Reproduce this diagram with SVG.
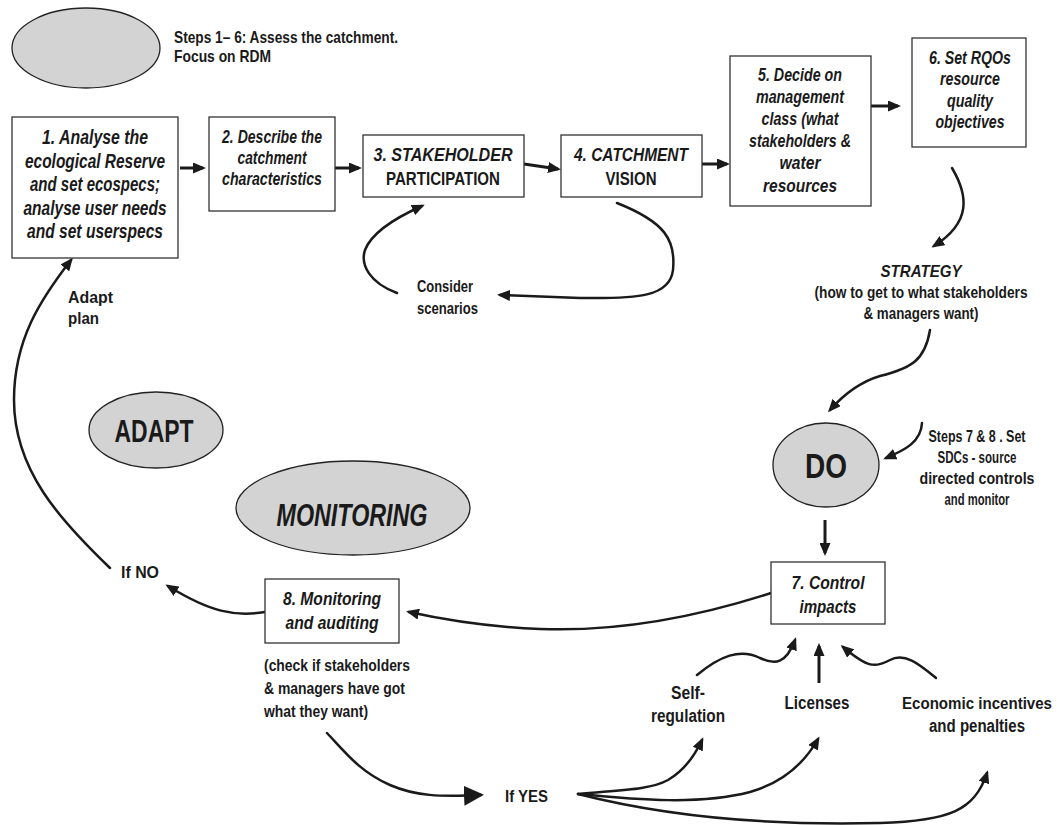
<svg xmlns="http://www.w3.org/2000/svg" width="1059" height="825" viewBox="0 0 1059 825">
<style>
.bg{fill:#ffffff}
.box{fill:#ffffff;stroke:#333333;stroke-width:1.3}
.ell{fill:#d3d3d3;stroke:#222222;stroke-width:1.3}
.t{font-family:"Liberation Sans Narrow","Liberation Sans",Arial,sans-serif;font-weight:bold;fill:#1a1a1a;text-anchor:middle}
.l{text-anchor:start}
.i{font-style:italic}
.c{fill:none;stroke:#1a1a1a;stroke-width:2.5;stroke-linecap:round}
.s{stroke-width:3;stroke-linecap:butt}
</style>
<defs>
<marker id="ah" markerUnits="userSpaceOnUse" markerWidth="13" markerHeight="11" refX="10" refY="5.5" orient="auto" viewBox="0 0 13 11">
<path d="M0,0 L13,5.5 L0,11 Z" fill="#1a1a1a"/>
</marker>
<marker id="big" markerUnits="userSpaceOnUse" markerWidth="20" markerHeight="20" refX="17" refY="10" orient="auto" viewBox="0 0 20 20">
<path d="M0,0 L20,10 L0,20 Z" fill="#1a1a1a"/>
</marker>
</defs>
<rect class="bg" x="0" y="0" width="1059" height="825"/>

<g id="legend">
<ellipse class="ell" cx="86" cy="48" rx="74" ry="40"/>
<text class="t l" x="174" y="43" font-size="17" textLength="224" lengthAdjust="spacingAndGlyphs">Steps 1– 6: Assess the catchment.</text>
<text class="t l" x="174" y="62" font-size="17" textLength="97" lengthAdjust="spacingAndGlyphs">Focus on RDM</text>
</g>

<g id="connectors">
<path class="c s" d="M180 168 L203 168" marker-end="url(#ah)"/>
<path class="c s" d="M335 168 L359 168" marker-end="url(#ah)"/>
<path class="c s" d="M524 164 L558 169" marker-end="url(#ah)"/>
<path class="c s" d="M702 164 L727 164" marker-end="url(#ah)"/>
<path class="c s" d="M871 106 L898 106" marker-end="url(#ah)"/>
<path class="c" d="M617 203 C665 222 676 240 673 270 C670 296 640 299 580 298 C550 297 520 296 500 295" marker-end="url(#ah)"/>
<path class="c" d="M397 293 C370 283 360 265 365 250 C372 232 395 218 422 206" marker-end="url(#ah)"/>
<path class="c" d="M952 168 C968 195 972 222 934 246" marker-end="url(#ah)"/>
<path class="c" d="M930 330 C925 360 912 368 880 376 C860 382 845 393 830 410" marker-end="url(#ah)"/>
<path class="c" d="M922 423 C921 442 905 450 886 458" marker-end="url(#ah)"/>
<path class="c s" d="M825 520 L825 553" marker-end="url(#ah)"/>
<path class="c" d="M771 593 C700 616 620 632 540 629 C490 627 450 621 409 612" marker-end="url(#ah)"/>
<path class="c" d="M265 612 C235 617 210 612 168 586" marker-end="url(#ah)"/>
<path class="c" d="M110 568 C60 520 14 470 14 400 C14 340 40 300 71 260" marker-end="url(#ah)"/>
<path class="c" d="M327 733 C345 752 360 772 390 785 C415 796 440 797 481 795" marker-end="url(#big)"/>
<path class="c" d="M578 794 C620 790 650 790 668 780 C685 770 695 755 702 740" marker-end="url(#ah)"/>
<path class="c" d="M578 794 C640 800 700 805 750 792 C785 782 805 762 818 739" marker-end="url(#ah)"/>
<path class="c" d="M578 794 C660 815 760 826 880 823 C950 821 975 810 987 773" marker-end="url(#ah)"/>
<path class="c" d="M697 675 C720 656 740 648 760 658 C775 665 786 664 795 640" marker-end="url(#ah)"/>
<path class="c s" d="M819 683 L819 646" marker-end="url(#ah)"/>
<path class="c" d="M936 678 C920 665 905 652 890 660 C875 668 868 668 843 647" marker-end="url(#ah)"/>
</g>

<g id="n1">
<rect class="box" x="12" y="117" width="166" height="141"/>
<text class="t i" x="95" y="144" font-size="19.5" textLength="106" lengthAdjust="spacingAndGlyphs">1. Analyse the</text>
<text class="t i" x="95" y="168" font-size="19.5" textLength="140" lengthAdjust="spacingAndGlyphs">ecological Reserve</text>
<text class="t i" x="95" y="191" font-size="19.5" textLength="130" lengthAdjust="spacingAndGlyphs">and set ecospecs;</text>
<text class="t i" x="95" y="215" font-size="19.5" textLength="143" lengthAdjust="spacingAndGlyphs">analyse user needs</text>
<text class="t i" x="95" y="238" font-size="19.5" textLength="136" lengthAdjust="spacingAndGlyphs">and set userspecs</text>
</g>

<g id="n2">
<rect class="box" x="209" y="117" width="126" height="94"/>
<text class="t i" x="272" y="143" font-size="17.5" textLength="100" lengthAdjust="spacingAndGlyphs">2. Describe the</text>
<text class="t i" x="272" y="164" font-size="17.5" textLength="69" lengthAdjust="spacingAndGlyphs">catchment</text>
<text class="t i" x="272" y="185" font-size="17.5" textLength="100" lengthAdjust="spacingAndGlyphs">characteristics</text>
</g>

<g id="n3">
<rect class="box" x="363" y="135" width="161" height="62"/>
<text class="t i" x="443" y="161" font-size="18.5" textLength="139" lengthAdjust="spacingAndGlyphs">3. STAKEHOLDER</text>
<text class="t" x="443" y="185" font-size="18.5" textLength="114" lengthAdjust="spacingAndGlyphs">PARTICIPATION</text>
</g>

<g id="n4">
<rect class="box" x="561" y="135" width="141" height="62"/>
<text class="t i" x="631" y="161" font-size="18.5" textLength="114" lengthAdjust="spacingAndGlyphs">4. CATCHMENT</text>
<text class="t" x="631" y="185" font-size="18.5" textLength="51" lengthAdjust="spacingAndGlyphs">VISION</text>
</g>

<g id="n5">
<rect class="box" x="730" y="56" width="141" height="150"/>
<text class="t i" x="800" y="81" font-size="17.5" textLength="84" lengthAdjust="spacingAndGlyphs">5. Decide on</text>
<text class="t i" x="800" y="103" font-size="17.5" textLength="88" lengthAdjust="spacingAndGlyphs">management</text>
<text class="t i" x="800" y="125" font-size="17.5" textLength="77" lengthAdjust="spacingAndGlyphs">class (what</text>
<text class="t i" x="800" y="147" font-size="17.5" textLength="102" lengthAdjust="spacingAndGlyphs">stakeholders &amp;</text>
<text class="t i" x="800" y="169" font-size="17.5" textLength="41" lengthAdjust="spacingAndGlyphs">water</text>
<text class="t i" x="800" y="192" font-size="17.5" textLength="74" lengthAdjust="spacingAndGlyphs">resources</text>
</g>

<g id="n6">
<rect class="box" x="912" y="38" width="114" height="109"/>
<text class="t i" x="970" y="64" font-size="17.5" textLength="82" lengthAdjust="spacingAndGlyphs">6. Set RQOs</text>
<text class="t i" x="970" y="85" font-size="17.5" textLength="60" lengthAdjust="spacingAndGlyphs">resource</text>
<text class="t i" x="970" y="107" font-size="17.5" textLength="46" lengthAdjust="spacingAndGlyphs">quality</text>
<text class="t i" x="970" y="128" font-size="17.5" textLength="69" lengthAdjust="spacingAndGlyphs">objectives</text>
</g>

<g id="scenarios">
<text class="t l" x="417" y="292" font-size="16.5" textLength="56" lengthAdjust="spacingAndGlyphs">Consider</text>
<text class="t l" x="417" y="314" font-size="16.5" textLength="61" lengthAdjust="spacingAndGlyphs">scenarios</text>
</g>

<g id="strategy">
<text class="t i" x="921" y="277" font-size="17" textLength="81" lengthAdjust="spacingAndGlyphs">STRATEGY</text>
<text class="t" x="921" y="298" font-size="16" textLength="213" lengthAdjust="spacingAndGlyphs">(how to get to what stakeholders</text>
<text class="t" x="921" y="319" font-size="17" textLength="115" lengthAdjust="spacingAndGlyphs">&amp; managers want)</text>
</g>

<g id="do">
<ellipse class="ell" cx="826" cy="465" rx="53" ry="42"/>
<text class="t" x="826" y="478" font-size="35" textLength="42" lengthAdjust="spacingAndGlyphs">DO</text>
</g>

<g id="steps78">
<text class="t" x="977" y="442" font-size="16.5" textLength="97" lengthAdjust="spacingAndGlyphs">Steps 7 &amp; 8 . Set</text>
<text class="t" x="977" y="463" font-size="16.5" textLength="79" lengthAdjust="spacingAndGlyphs">SDCs - source</text>
<text class="t" x="977" y="484" font-size="16.5" textLength="115" lengthAdjust="spacingAndGlyphs">directed controls</text>
<text class="t" x="977" y="505" font-size="16.5" textLength="65" lengthAdjust="spacingAndGlyphs">and monitor</text>
</g>

<g id="adapt">
<ellipse class="ell" cx="156" cy="430" rx="67" ry="38"/>
<text class="t" x="154" y="442" font-size="31" textLength="79" lengthAdjust="spacingAndGlyphs">ADAPT</text>
</g>

<g id="monitoring">
<ellipse class="ell" cx="353" cy="508" rx="117" ry="47"/>
<text class="t i" x="352" y="526" font-size="31" textLength="151" lengthAdjust="spacingAndGlyphs">MONITORING</text>
</g>

<g id="adaptplan">
<text class="t l" x="68" y="303" font-size="17" textLength="45" lengthAdjust="spacingAndGlyphs">Adapt</text>
<text class="t l" x="68" y="324" font-size="17" textLength="31" lengthAdjust="spacingAndGlyphs">plan</text>
</g>

<g id="ifno">
<text class="t l" x="121" y="578" font-size="17" textLength="38" lengthAdjust="spacingAndGlyphs">If NO</text>
</g>

<g id="n7">
<rect class="box" x="771" y="562" width="114" height="62"/>
<text class="t i" x="828" y="589" font-size="19" textLength="73" lengthAdjust="spacingAndGlyphs">7. Control</text>
<text class="t i" x="828" y="613" font-size="19" textLength="57" lengthAdjust="spacingAndGlyphs">impacts</text>
</g>

<g id="n8">
<rect class="box" x="265" y="579" width="134" height="64"/>
<text class="t i" x="332" y="605" font-size="19" textLength="98" lengthAdjust="spacingAndGlyphs">8. Monitoring</text>
<text class="t i" x="332" y="629" font-size="19" textLength="93" lengthAdjust="spacingAndGlyphs">and auditing</text>
</g>

<g id="check">
<text class="t l" x="264" y="671" font-size="17" textLength="146" lengthAdjust="spacingAndGlyphs">(check if stakeholders</text>
<text class="t l" x="264" y="694" font-size="17" textLength="141" lengthAdjust="spacingAndGlyphs">&amp; managers have got</text>
<text class="t l" x="264" y="717" font-size="17" textLength="104" lengthAdjust="spacingAndGlyphs">what they want)</text>
</g>

<g id="ifyes">
<text class="t l" x="505" y="802" font-size="17" textLength="43" lengthAdjust="spacingAndGlyphs">If YES</text>
</g>

<g id="selfreg">
<text class="t" x="688" y="699" font-size="18" textLength="34" lengthAdjust="spacingAndGlyphs">Self-</text>
<text class="t" x="688" y="722" font-size="18" textLength="74" lengthAdjust="spacingAndGlyphs">regulation</text>
</g>

<g id="licenses">
<text class="t" x="817" y="709" font-size="18" textLength="65" lengthAdjust="spacingAndGlyphs">Licenses</text>
</g>

<g id="economic">
<text class="t" x="977" y="709" font-size="16.5" textLength="150" lengthAdjust="spacingAndGlyphs">Economic incentives</text>
<text class="t" x="977" y="732" font-size="17.5" textLength="96" lengthAdjust="spacingAndGlyphs">and penalties</text>
</g>
</svg>
